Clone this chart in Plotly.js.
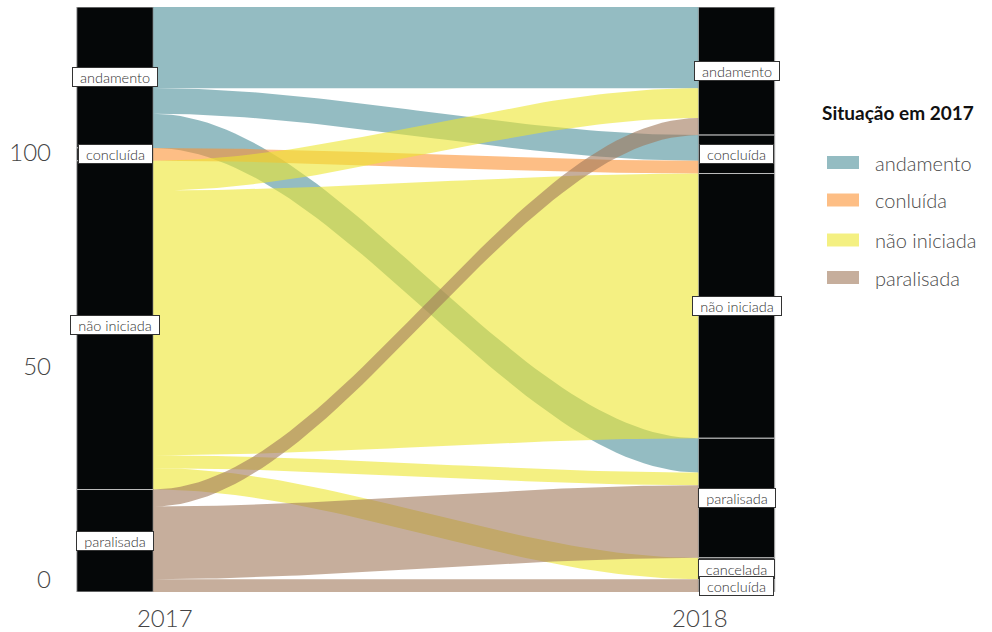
<!DOCTYPE html>
<html><head><meta charset="utf-8">
<script src="https://cdn.plot.ly/plotly-3.0.1.min.js"></script>
<style>body{margin:0;background:#fff}#chart{width:992px;height:632px}</style>
</head><body><div id="chart"></div>
<script>
// ---- data ----
const years = ["2017", "2018"];
const strata2017 = ["andamento", "concluída", "não iniciada", "paralisada"];
const strata2018 = ["andamento", "concluída", "não iniciada", "paralisada", "cancelada", "concluída_b"];
const labels2017 = ["andamento", "concluída", "não iniciada", "paralisada"];
const labels2018 = ["andamento", "concluída", "não iniciada", "paralisada", "cancelada", "concluída"];
const flowFrom = ["andamento","andamento","andamento","concluída","não iniciada","não iniciada","não iniciada","não iniciada","paralisada","paralisada","paralisada"];
const flowTo   = ["andamento","concluída","paralisada","concluída","andamento","não iniciada","paralisada","cancelada","andamento","paralisada","concluída_b"];
const flowCount = [19, 6, 8, 3, 7, 62, 3, 5, 4, 17, 3];
const legendNames = ["andamento", "conluída", "não iniciada", "paralisada"];
const legendTitle = "Situação em 2017";
const fillColors = ["rgba(77,143,153,0.6)", "rgba(252,147,52,0.6)", "rgba(237,230,47,0.6)", "rgba(160,120,90,0.6)"];

// ---- geometry helpers ----
const XPOS = [1, 2];
const W = 0.1231;
const total = flowCount.reduce((a, b) => a + b, 0);

function stratumTotals(strata, key) {
  return strata.map(s => flowCount.reduce((acc, c, i) => acc + ((key === 'from' ? flowFrom[i] : flowTo[i]) === s ? c : 0), 0));
}
const tot17 = stratumTotals(strata2017, 'from');
const tot18 = stratumTotals(strata2018, 'to');

function stratumTops(tots) {
  const tops = []; let cur = total;
  tots.forEach(t => { tops.push(cur); cur -= t; });
  return tops;
}
const tops17 = stratumTops(tot17);
const tops18 = stratumTops(tot18);

const leftTop = new Array(flowCount.length);
strata2017.forEach((s, si) => {
  let cur = tops17[si];
  const idx = flowCount.map((c, i) => i).filter(i => flowFrom[i] === s)
    .sort((a, b) => strata2018.indexOf(flowTo[a]) - strata2018.indexOf(flowTo[b]));
  idx.forEach(i => { leftTop[i] = cur; cur -= flowCount[i]; });
});
const rightTop = new Array(flowCount.length);
strata2018.forEach((s, si) => {
  let cur = tops18[si];
  const idx = flowCount.map((c, i) => i).filter(i => flowTo[i] === s)
    .sort((a, b) => strata2017.indexOf(flowFrom[a]) - strata2017.indexOf(flowFrom[b]));
  idx.forEach(i => { rightTop[i] = cur; cur -= flowCount[i]; });
});

const xL = XPOS[0] + W / 2, xR = XPOS[1] - W / 2;
const N = 60;
function curve(y0, y1) {
  const xs = [], ys = [];
  for (let k = 0; k <= N; k++) {
    const t = k / N;
    const s = t * t * (3 - 2 * t);
    xs.push(xL + t * (xR - xL));
    ys.push(y0 + s * (y1 - y0));
  }
  return [xs, ys];
}

const traces = [];
strata2017.forEach((s, si) => {
  const X = [], Y = [];
  flowCount.forEach((c, i) => {
    if (flowFrom[i] !== s) return;
    const [tx, ty] = curve(leftTop[i], rightTop[i]);
    const [bx, by] = curve(leftTop[i] - c, rightTop[i] - c);
    if (X.length) { X.push(null); Y.push(null); }
    X.push(...tx, ...bx.slice().reverse(), tx[0]);
    Y.push(...ty, ...by.slice().reverse(), ty[0]);
  });
  traces.push({
    type: 'scatter', mode: 'lines', x: X, y: Y, fill: 'toself',
    fillcolor: fillColors[si], line: { width: 0, color: 'rgba(0,0,0,0)' },
    name: legendNames[si], hoverinfo: 'skip', showlegend: false
  });
});

function barTrace(xi, tots, tops) {
  return {
    type: 'bar', x: tots.map(() => XPOS[xi]), y: tots, base: tops.map((t, i) => t - tots[i]),
    width: W, marker: { color: '#050708', line: { color: '#bdbdbd', width: 1 } },
    hoverinfo: 'skip', showlegend: false
  };
}
traces.push(barTrace(0, tot17, tops17));
traces.push(barTrace(1, tot18, tops18));

// stratum labels
const LABEL_FONT = { family: 'Lato, sans-serif', size: 14.5, color: '#333', weight: 300 };
const cv = document.createElement('canvas').getContext('2d');
cv.font = '300 14.5px Lato, sans-serif';
const annotations = [];
function addLabels(xi, labels, tots, tops) {
  labels.forEach((lab, i) => {
    annotations.push({
      x: XPOS[xi], y: tops[i] - tots[i] / 2, xref: 'x', yref: 'y', text: lab, showarrow: false,
      font: LABEL_FONT, width: Math.round(cv.measureText(lab).width + 12), height: 16,
      bgcolor: '#ffffff', bordercolor: '#333', borderwidth: 1, borderpad: 1
    });
  });
}
addLabels(0, labels2017, tot17, tops17);
addLabels(1, labels2018, tot18, tops18);

// manual legend
const L = 69, R = 800, T = 7, B = 592;
const px = v => (v - L) / (R - L);
const py = v => (B - v) / (B - T);
const shapes = [];
annotations.push({
  xref: 'paper', yref: 'paper', x: px(820), y: py(112), xanchor: 'left', yanchor: 'middle',
  text: '<b>' + legendTitle + '</b>', showarrow: false,
  font: { family: 'Lato, sans-serif', size: 19, color: '#111' }
});
const itemY = [162.5, 200, 240, 277.5];
legendNames.forEach((n, i) => {
  shapes.push({
    type: 'rect', xref: 'paper', yref: 'paper', x0: px(827), x1: px(859),
    y0: py(itemY[i] + 6.5), y1: py(itemY[i] - 6.5), fillcolor: fillColors[i], line: { width: 0 }
  });
  annotations.push({
    xref: 'paper', yref: 'paper', x: px(873), y: py(itemY[i]), xanchor: 'left', yanchor: 'middle',
    text: n, showarrow: false, font: { family: 'Lato, sans-serif', size: 20, color: '#4a4a4a', weight: 300 }
  });
});

const xr0 = 1 - 46 / 621.5, xr1 = 1 + (R - 115) / 621.5;
const layout = {
  width: 992, height: 632,
  margin: { l: L, r: 992 - R, t: T, b: 632 - B, pad: 0 },
  paper_bgcolor: '#fff', plot_bgcolor: '#fff',
  showlegend: false, barmode: 'overlay',
  xaxis: {
    range: [xr0, xr1], showgrid: false, zeroline: false, showline: false,
    tickvals: [1.08, 1.941], ticktext: years, ticks: '',
    tickfont: { family: 'Lato, sans-serif', size: 24, color: '#444', weight: 300 },
    ticklabelstandoff: 10
  },
  yaxis: {
    range: [0, total], showgrid: false, zeroline: false, showline: false,
    tickvals: [0, 50, 100], ticks: '',
    tickfont: { family: 'Lato, sans-serif', size: 24, color: '#444', weight: 300 },
    ticklabelstandoff: 17, ticklabelshift: -12
  },
  annotations: annotations, shapes: shapes,
  hovermode: false
};
Plotly.newPlot('chart', traces, layout, { displayModeBar: false, staticPlot: true });
</script></body></html>
